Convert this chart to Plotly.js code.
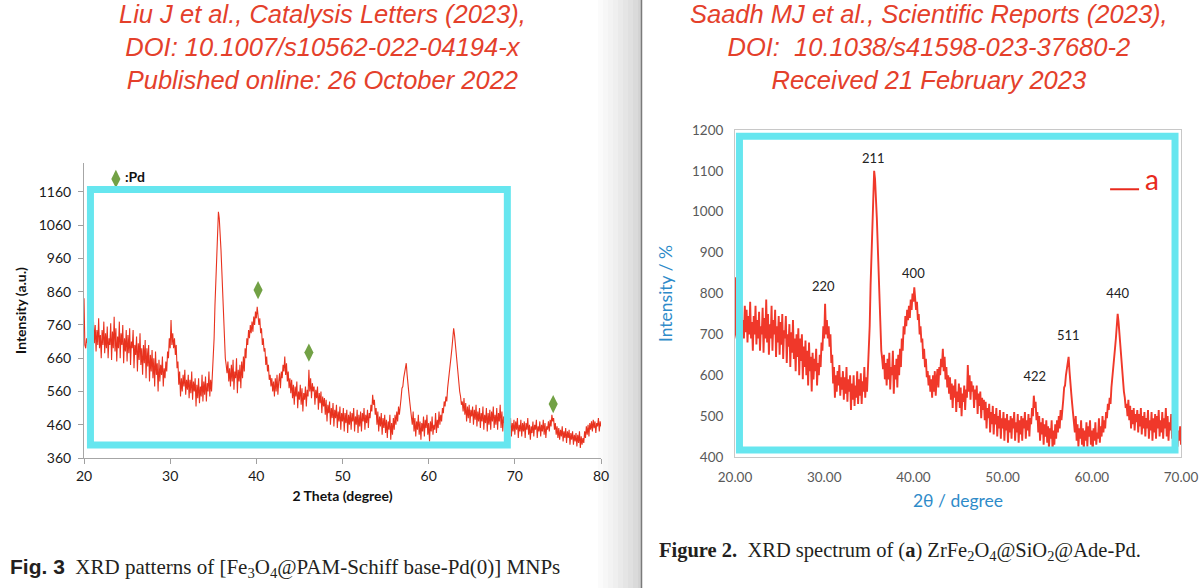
<!DOCTYPE html>
<html>
<head>
<meta charset="utf-8">
<script src="https://cdn.plot.ly/plotly-3.0.1.min.js"></script>
<style>
  html, body { margin: 0; padding: 0; background: #ffffff; }
  #chart { width: 1200px; height: 588px; }
</style>
</head>
<body>
<div id="chart"></div>
<script>
// ---------- DATA ----------
// 2-theta grid: 20.0 .. 80.0 step 0.1
const twoTheta = Array.from({length: 601}, (_, i) => +(20 + i * 0.1).toFixed(1));

// Intensity (one row per degree, 10 samples each)
const intensity = [
  840, 700, 690, 720, 705, 740, 710, 760, 700, 735,   // 20
  690, 770, 705, 760, 680, 745, 700, 780, 690, 730,   // 21
  660, 745, 700, 770, 675, 735, 690, 755, 660, 720,   // 22
  700, 765, 655, 740, 690, 785, 680, 750, 650, 725,   // 23
  690, 770, 660, 735, 700, 760, 645, 720, 680, 745,   // 24
  650, 730, 675, 750, 640, 710, 690, 745, 630, 700,   // 25
  670, 725, 620, 705, 655, 735, 640, 690, 610, 700,   // 26
  645, 715, 600, 690, 635, 700, 590, 670, 620, 685,   // 27
  600, 660, 575, 680, 610, 645, 560, 655, 590, 640,   // 28
  610, 665, 575, 630, 600, 650, 620, 680, 660, 720,   // 29
  690, 775, 700, 735, 690, 720, 670, 700, 630, 650,   // 30
  580, 620, 545, 600, 560, 610, 575, 625, 550, 595,   // 31
  565, 610, 540, 595, 555, 620, 535, 590, 560, 600,   // 32
  515, 580, 540, 600, 525, 575, 545, 610, 530, 590,   // 33
  550, 605, 530, 585, 560, 620, 545, 595, 560, 610,   // 34
  650, 720, 820, 900, 980, 1050, 1100, 1080, 1040, 985, // 35
  920, 840, 760, 700, 660, 640, 615, 650, 590, 630,   // 36
  575, 640, 590, 655, 565, 620, 600, 660, 555, 625,   // 37
  590, 640, 570, 650, 600, 665, 620, 690, 660, 720,   // 38
  700, 745, 720, 760, 735, 770, 740, 785, 760, 800,   // 39
  780, 815, 790, 760, 780, 735, 750, 700, 720, 680,   // 40
  690, 640, 665, 620, 640, 595, 610, 575, 600, 560,   // 41
  590, 545, 600, 560, 610, 550, 590, 615, 570, 620,   // 42
  600, 640, 620, 665, 610, 645, 590, 620, 570, 600,   // 43
  555, 595, 540, 580, 520, 575, 545, 590, 510, 560,   // 44
  535, 580, 520, 570, 500, 555, 535, 575, 515, 565,   // 45
  545, 625, 560, 600, 540, 585, 560, 575, 520, 565,   // 46
  540, 575, 505, 555, 525, 560, 495, 545, 515, 540,   // 47
  490, 535, 470, 520, 495, 530, 460, 510, 480, 525,   // 48
  455, 505, 480, 520, 450, 500, 470, 515, 445, 495,   // 49
  470, 510, 440, 495, 465, 505, 435, 490, 460, 500,   // 50
  445, 495, 470, 510, 440, 485, 460, 505, 435, 490,   // 51
  455, 500, 440, 495, 470, 510, 445, 490, 465, 505,   // 52
  450, 495, 480, 520, 500, 550, 520, 535, 490, 510,   // 53
  460, 500, 440, 485, 455, 495, 430, 480, 450, 490,   // 54
  435, 475, 420, 470, 445, 490, 415, 465, 430, 480,   // 55
  445, 490, 460, 500, 470, 515, 490, 530, 540, 570,   // 56
  575, 600, 615, 640, 645, 610, 590, 555, 530, 505,   // 57
  490, 460, 500, 440, 480, 425, 470, 445, 490, 430,   // 58
  470, 415, 465, 440, 485, 425, 475, 450, 490, 430,   // 59
  465, 410, 470, 440, 485, 430, 460, 445, 495, 435,   // 60
  475, 450, 500, 460, 490, 470, 510, 495, 530, 515,   // 61
  545, 530, 570, 590, 610, 640, 665, 690, 720, 750,   // 62
  730, 700, 670, 630, 610, 580, 560, 545, 520, 530,   // 63
  500, 540, 490, 525, 470, 515, 480, 520, 465, 505,   // 64
  485, 515, 460, 505, 475, 520, 455, 500, 470, 510,   // 65
  450, 495, 470, 515, 445, 490, 465, 510, 440, 495,   // 66
  460, 505, 445, 500, 470, 515, 450, 490, 460, 510,   // 67
  445, 495, 470, 520, 450, 500, 440, 485, 465, 505,   // 68
  445, 485, 430, 470, 450, 480, 425, 465, 440, 475,   // 69
  430, 470, 445, 480, 420, 460, 440, 475, 425, 465,   // 70
  440, 470, 420, 465, 445, 480, 430, 460, 415, 455,   // 71
  435, 470, 425, 460, 445, 475, 420, 455, 440, 470,   // 72
  425, 460, 440, 475, 430, 465, 420, 455, 445, 470,   // 73
  440, 475, 455, 490, 470, 480, 445, 465, 430, 455,   // 74
  420, 450, 415, 445, 425, 455, 410, 440, 420, 450,   // 75
  405, 440, 420, 445, 400, 435, 415, 440, 400, 430,   // 76
  410, 435, 395, 430, 405, 440, 390, 425, 400, 420,   // 77
  405, 440, 420, 455, 430, 460, 425, 465, 445, 470,   // 78
  440, 475, 450, 470, 435, 465, 455, 480, 440, 470,   // 79
  455                                                 // 80
];

// Pd markers (left figure)
const pdTheta = [40.2, 46.1, 74.45];
const pdLevel = [865, 677, 522];
const pdLegendTheta = [23.7];
const pdLegendLevel = [1199];

// hkl labels (right figure)
const hklLabels = ['220', '211', '400', '422', '511', '440'];
const hklTheta = [29.9, 35.5, 40.0, 53.6, 57.37, 62.9];
const hklLevel = [813, 1128, 847, 594, 694, 796];

// right figure is drawn only up to 70 degrees
const rightEnd = twoTheta.indexOf(70.0) + 1;

// tick values
const leftXTicks = [20, 30, 40, 50, 60, 70, 80];
const leftYTicks = [360, 460, 560, 660, 760, 860, 960, 1060, 1160];
const rightXTicks = [20, 30, 40, 50, 60, 70];

// ---------- STYLE ----------
const RED_HEAD = '#e4402b';
const CYAN = '#66e6ef';
const LINE_L = '#e8321e';
const LINE_R = '#f0382a';
const BLUE = '#2e8bc9';

const traces = [
  { x: twoTheta, y: intensity, type: 'scatter', mode: 'lines',
    line: { color: LINE_L, width: 1.1 }, xaxis: 'x', yaxis: 'y', hoverinfo: 'skip' },
  { x: pdTheta, y: pdLevel, type: 'scatter', mode: 'markers',
    marker: { symbol: 'diamond-tall', size: 13, color: '#72a145' }, xaxis: 'x', yaxis: 'y', cliponaxis: false },
  { x: pdLegendTheta, y: pdLegendLevel, type: 'scatter', mode: 'markers+text',
    text: ['<b>:Pd</b>'], textposition: 'middle right',
    textfont: { family: 'Lato, sans-serif', size: 14, color: '#111' },
    marker: { symbol: 'diamond-tall', size: 13, color: '#72a145' }, xaxis: 'x', yaxis: 'y', cliponaxis: false },
  { x: twoTheta.slice(0, rightEnd), y: intensity.slice(0, rightEnd), type: 'scatter', mode: 'lines',
    line: { color: LINE_R, width: 1.9 }, xaxis: 'x2', yaxis: 'y2', hoverinfo: 'skip' },
  { x: hklTheta, y: hklLevel, type: 'scatter', mode: 'text', text: hklLabels,
    textposition: 'middle center', textfont: { family: 'Lato, sans-serif', size: 13, color: '#222' },
    xaxis: 'x2', yaxis: 'y2', cliponaxis: false }
];

// page-edge shadow between the two pages
const shadeCols = ['#fbfbfb', '#f7f7f7', '#f3f3f3', '#efefef', '#eaeaea', '#e5e5e5', '#e0e0e0', '#dadada', '#d3d3d3'];
const shapes = shadeCols.map((c, i) => ({
  type: 'rect', xref: 'paper', yref: 'paper', layer: 'below',
  x0: (598 + i * 5) / 1200, x1: Math.min(598 + (i + 1) * 5, 641) / 1200, y0: 0, y1: 1,
  fillcolor: c, line: { width: 0 }
}));
shapes.push({ type: 'line', xref: 'paper', yref: 'paper', x0: 641.5 / 1200, x1: 641.5 / 1200, y0: 0, y1: 1,
  line: { color: '#7a7a7a', width: 1.5 } });
// cyan highlight boxes
shapes.push({ type: 'rect', xref: 'x', yref: 'y', x0: 20.75, x1: 69.13, y0: 399, y1: 1167.5,
  line: { color: CYAN, width: 7 }, fillcolor: 'rgba(0,0,0,0)' });
shapes.push({ type: 'rect', xref: 'x2', yref: 'y2', x0: 20.5, x1: 69.33, y0: 417, y1: 1184.6,
  line: { color: CYAN, width: 7 }, fillcolor: 'rgba(0,0,0,0)' });
// legend line "— a"
shapes.push({ type: 'line', xref: 'x2', yref: 'y2', x0: 62.05, x1: 65.3, y0: 1055, y1: 1055,
  line: { color: '#e8291c', width: 2 } });

const annotations = [
  { xref: 'paper', yref: 'paper', x: 322 / 1200, y: 1 - 47 / 588, xanchor: 'center', yanchor: 'middle',
    showarrow: false, align: 'center',
    text: '<i>Liu J et al., Catalysis Letters (2023),<br>DOI: 10.1007/s10562-022-04194-x<br>Published online: 26 October 2022</i>',
    font: { family: 'Liberation Sans, Arial, sans-serif', size: 25.5, color: RED_HEAD } },
  { xref: 'paper', yref: 'paper', x: 929 / 1200, y: 1 - 47 / 588, xanchor: 'center', yanchor: 'middle',
    showarrow: false, align: 'center',
    text: '<i>Saadh MJ et al., Scientific Reports (2023),<br>DOI:  10.1038/s41598-023-37680-2<br>Received 21 February 2023</i>',
    font: { family: 'Liberation Sans, Arial, sans-serif', size: 25.5, color: RED_HEAD } },
  { xref: 'paper', yref: 'paper', x: 8 / 1200, y: 1 - 568 / 588, xanchor: 'left', yanchor: 'middle',
    showarrow: false,
    text: '<span style="font-family:Liberation Sans, Arial, sans-serif"><b>Fig. 3</b></span>  XRD patterns of [Fe<sub>3</sub>O<sub>4</sub>@PAM-Schiff base-Pd(0)] MNPs',
    font: { family: 'Liberation Serif, Times New Roman, serif', size: 21, color: '#231f20' } },
  { xref: 'paper', yref: 'paper', x: 657 / 1200, y: 1 - 551 / 588, xanchor: 'left', yanchor: 'middle',
    showarrow: false,
    text: '<b>Figure 2.</b>  XRD spectrum of (<b>a</b>) ZrFe<sub>2</sub>O<sub>4</sub>@SiO<sub>2</sub>@Ade-Pd.',
    font: { family: 'Liberation Serif, Times New Roman, serif', size: 20.5, color: '#231f20' } },
  { xref: 'x2', yref: 'y2', x: 66.8, y: 1080, showarrow: false, xanchor: 'center', yanchor: 'middle',
    text: 'a', font: { family: 'Lato, sans-serif', size: 28, color: '#e8291c' } }
];

const layout = {
  width: 1200, height: 588,
  margin: { l: 0, r: 0, t: 0, b: 0 },
  paper_bgcolor: '#ffffff', plot_bgcolor: 'rgba(0,0,0,0)',
  showlegend: false,
  xaxis: {
    domain: [84 / 1200, 601 / 1200], range: [20, 80], anchor: 'y',
    tickmode: 'array', tickvals: leftXTicks,
    ticks: 'outside', ticklen: 5, tickcolor: '#a0a0a0',
    showline: true, linecolor: '#a6a6a6', linewidth: 1,
    showgrid: false, zeroline: false,
    tickfont: { family: 'Lato, sans-serif', size: 14, color: '#1a1a1a' },
    title: { text: '<b>2 Theta (degree)</b>', standoff: 8,
      font: { family: 'Lato, sans-serif', size: 14, color: '#111' } }
  },
  yaxis: {
    domain: [1 - 458 / 588, 1 - 163 / 588], range: [360, 1247], anchor: 'x',
    tickmode: 'array', tickvals: leftYTicks,
    ticks: 'outside', ticklen: 5, tickcolor: '#a0a0a0',
    showline: true, linecolor: '#a6a6a6', linewidth: 1,
    showgrid: false, zeroline: false,
    tickfont: { family: 'Lato, sans-serif', size: 14, color: '#1a1a1a' },
    ticklabelstandoff: 4,
    title: { text: '<b>Intensity (a.u.)</b>', standoff: 8,
      font: { family: 'Lato, sans-serif', size: 14, color: '#111' } }
  },
  xaxis2: {
    domain: [735 / 1200, 1181 / 1200], range: [20, 70], anchor: 'y2',
    tickmode: 'array', tickvals: rightXTicks, tickformat: '.2f',
    ticks: '', showline: true, mirror: true, linecolor: '#c8c8c8', linewidth: 1,
    showgrid: false, zeroline: false,
    tickfont: { family: 'Lato, sans-serif', size: 13.5, color: '#595959' },
    ticklabelstandoff: 8,
    title: { text: '2θ / degree', standoff: 10,
      font: { family: 'Lato, sans-serif', size: 17.5, color: BLUE } }
  },
  yaxis2: {
    domain: [1 - 457 / 588, 1 - 130 / 588], range: [400, 1200], anchor: 'x2',
    dtick: 100, tick0: 400,
    ticks: '', showline: true, mirror: true, linecolor: '#c8c8c8', linewidth: 1,
    showgrid: false, zeroline: false,
    tickfont: { family: 'Lato, sans-serif', size: 13.5, color: '#595959' },
    ticklabelstandoff: 8,
    title: { text: 'Intensity / %', standoff: 14,
      font: { family: 'Lato, sans-serif', size: 17.5, color: BLUE } }
  },
  shapes: shapes,
  annotations: annotations
};

Plotly.newPlot('chart', traces, layout, { staticPlot: true, displayModeBar: false });
</script>
</body>
</html>
